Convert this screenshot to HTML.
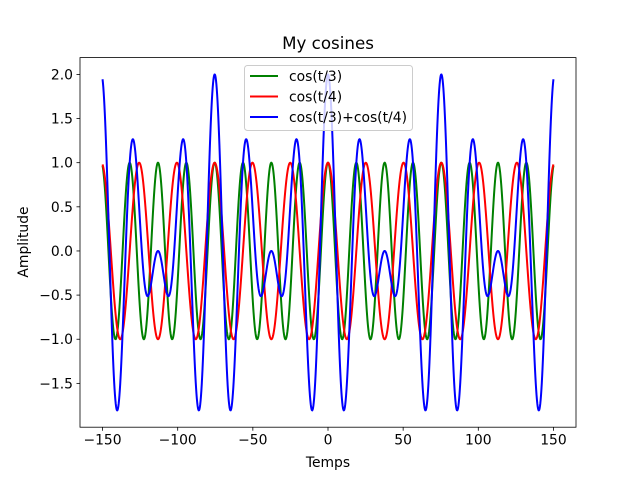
<!DOCTYPE html>
<html><head><meta charset="utf-8"><style>
body{margin:0;background:#fff}
svg text{font-family:"DejaVu Sans","Liberation Sans",sans-serif;fill:#000}
</style></head><body>
<svg id="chart" width="640" height="480" xmlns="http://www.w3.org/2000/svg">
<rect width="640" height="480" fill="#fff"/>
<text x="328" y="49" font-size="16.7" text-anchor="middle">My cosines</text>
<g id="plot"></g>
<text x="328" y="467" font-size="13.9" text-anchor="middle">Temps</text>
<text transform="translate(28,242) rotate(-90)" font-size="13.9" text-anchor="middle">Amplitude</text>
</svg>
<script>
const seriesLabels = ["cos(t/3)", "cos(t/4)", "cos(t/3)+cos(t/4)"];
const seriesColors = ["#008000", "#ff0000", "#0000ff"];
const divisors = [3, 4];
const tStart = -150, tEnd = 150, tStep = 0.25;
const xTicks = [-150, -100, -50, 0, 50, 100, 150];
const yTicks = [-1.5, -1.0, -0.5, 0.0, 0.5, 1.0, 1.5, 2.0];

const NS = "http://www.w3.org/2000/svg";
const L = 80, R = 576, T = 57.6, B = 427.2;
const tVals = [];
for (let t = tStart; t <= tEnd + 1e-9; t += tStep) tVals.push(t);
const s1 = tVals.map(t => Math.cos(t / divisors[0]));
const s2 = tVals.map(t => Math.cos(t / divisors[1]));
const s3 = tVals.map((t, i) => s1[i] + s2[i]);
const series = [s1, s2, s3];
const all = series.flat();
let ymin = Math.min(...all), ymax = Math.max(...all);
const ym = (ymax - ymin) * 0.05; ymin -= ym; ymax += ym;
const xm = (tEnd - tStart) * 0.05;
const xmin = tStart - xm, xmax = tEnd + xm;
const X = v => L + (v - xmin) / (xmax - xmin) * (R - L);
const Y = v => B - (v - ymin) / (ymax - ymin) * (B - T);
const g = document.getElementById("plot");
function mk(tag, attrs, parent) {
  const e = document.createElementNS(NS, tag);
  for (const k in attrs) e.setAttribute(k, attrs[k]);
  (parent || g).appendChild(e);
  return e;
}
series.forEach((s, si) => {
  const d = s.map((v, i) => (i ? "L" : "M") + X(tVals[i]).toFixed(2) + " " + Y(v).toFixed(2)).join("");
  const p = mk("path", {d: d, fill: "none", stroke: seriesColors[si], "stroke-width": 2, "stroke-linejoin": "round"});
  
  
});
const frame = mk("rect", {x: L, y: T, width: R - L, height: B - T, fill: "none", stroke: "#000", "stroke-width": 0.8});


xTicks.forEach(v => {
  const x = X(v);
  mk("line", {x1: x, x2: x, y1: B, y2: B + 3.5, stroke: "#000", "stroke-width": 0.8});
  const t = mk("text", {x: x, y: B + 17.5, "font-size": 13.9, "text-anchor": "middle"});
  t.textContent = v < 0 ? "\u2212" + Math.abs(v) : String(v);
  
  
});
yTicks.forEach(v => {
  const y = Y(v);
  mk("line", {x1: L, x2: L - 3.5, y1: y, y2: y, stroke: "#000", "stroke-width": 0.8});
  const t = mk("text", {x: L - 7, y: y + 5, "font-size": 13.9, "text-anchor": "end"});
  t.textContent = (v < 0 ? "\u2212" : "") + Math.abs(v).toFixed(1);
  
  
});
const leg = mk("g", {});


mk("rect", {x: 244.5, y: 65.5, width: 168, height: 65, rx: 3, fill: "#fff", "fill-opacity": 0.8, stroke: "#ccc", "stroke-width": 1}, leg);
seriesLabels.forEach((lab, i) => {
  const y = 76 + i * 20.5;
  mk("line", {x1: 250, x2: 278, y1: y, y2: y, stroke: seriesColors[i], "stroke-width": 2}, leg);
  const t = mk("text", {x: 289, y: y + 5, "font-size": 13.9}, leg);
  t.textContent = lab;
  
  
});
</script>
</body></html>
